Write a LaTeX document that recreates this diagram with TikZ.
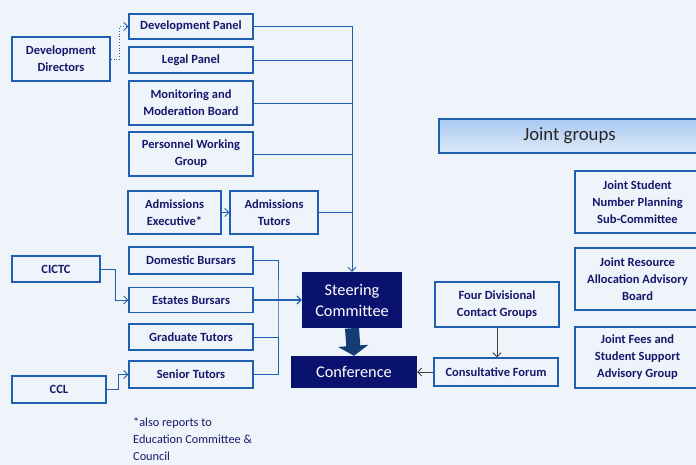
\documentclass[tikz,border=0pt]{standalone}
\usepackage{fontspec}
\setmainfont{Carlito}
\usepackage{tikz}
\usetikzlibrary{arrows.meta}

\definecolor{bgblue}{HTML}{EEF4FA}
\definecolor{lineblue}{HTML}{1F5FAF}
\definecolor{textnavy}{HTML}{16186B}
\definecolor{boxnavy}{HTML}{0A1270}
\definecolor{arrownavy}{HTML}{123C72}
\definecolor{jointtop}{HTML}{A9C9F0}
\definecolor{jointbot}{HTML}{DCE9F8}

\begin{document}
\begin{tikzpicture}[x=1pt, y=-1pt,
    box/.style={draw=lineblue, line width=1.4pt, fill=bgblue, text=textnavy, align=center, inner sep=0pt,
        font=\bfseries\fontsize{12.5}{17}\selectfont},
    navybox/.style={fill=boxnavy, text=white, align=center, inner sep=0pt,
        font=\fontsize{16.3}{21}\selectfont},
    link/.style={draw=lineblue, line width=0.8pt},
    tip/.style={-{Straight Barb[length=4pt,width=8pt]}},
    greylink/.style={draw=black!75, line width=0.8pt, -{Straight Barb[length=4pt,width=8pt]}}]
    \useasboundingbox (0,0) rectangle (696,465);
    \clip (0,0) rectangle (696,465);
    \fill[bgblue] (0,0) rectangle (696,465);

    % left column
    \node[box, minimum width=124pt, minimum height=25pt] (devpanel) at (191,26.5) {Development Panel};
    \node[box, minimum width=124pt, minimum height=26pt] (legal) at (191,60) {Legal Panel};
    \node[box, minimum width=124pt, minimum height=44pt] (monitor) at (191,103) {Monitoring and\\Moderation Board};
    \node[box, minimum width=124pt, minimum height=44pt] (personnel) at (191,154) {Personnel Working\\Group};
    \node[box, minimum width=93pt, minimum height=43pt] (admexec) at (174.5,212.5) {Admissions\\Executive*};
    \node[box, minimum width=88pt, minimum height=43pt] (admtutors) at (274,212.5) {Admissions\\Tutors};
    \node[box, minimum width=98pt, minimum height=44pt] (devdir) at (61,59) {Development\\Directors};

    \node[box, minimum width=88pt, minimum height=26pt] (cictc) at (56,269) {CICTC};
    \node[box, minimum width=124pt, minimum height=27pt] (domestic) at (191,260.5) {Domestic Bursars};
    \node[box, minimum width=124pt, minimum height=25pt] (estates) at (191,300) {Estates Bursars};
    \node[box, minimum width=124pt, minimum height=26pt] (graduate) at (191,337) {Graduate Tutors};
    \node[box, minimum width=124pt, minimum height=27pt] (senior) at (191,374.5) {Senior Tutors};
    \node[box, minimum width=94pt, minimum height=27pt] (ccl) at (59,389.5) {CCL};

    % centre
    \node[navybox, minimum width=100pt, minimum height=56pt] (steering) at (352,300) {Steering\\Committee};
    \node[navybox, minimum width=126pt, minimum height=32pt] (conference) at (354,372) {Conference};
    \node[box, minimum width=124pt, minimum height=45pt] (fourdiv) at (497,304.5) {Four Divisional\\Contact Groups};
    \node[box, minimum width=124pt, minimum height=28pt] (consult) at (496,372) {Consultative Forum};

    % joint groups
    \node[draw=lineblue, line width=1.4pt, top color=jointtop, bottom color=jointbot, text=black!85, inner sep=0pt,
        minimum width=261pt, minimum height=34pt, font=\fontsize{18.8}{22}\selectfont] (joint) at (569.5,136) {Joint groups};
    \node[box, minimum width=125pt, minimum height=62pt] (jsnp) at (637.5,202) {Joint Student\\Number Planning\\Sub-Committee};
    \node[box, minimum width=125pt, minimum height=62pt] (jraab) at (637.5,279) {Joint Resource\\Allocation Advisory\\Board};
    \node[box, minimum width=125pt, minimum height=61pt] (jfees) at (637.5,357.5) {Joint Fees and\\Student Support\\Advisory Group};

    \node[anchor=north west, align=left, inner sep=0pt, text=textnavy, font=\fontsize{12.3}{17}\selectfont] (note) at (133,418)
        {*also reports to\\Education Committee \&\\Council};

    % connectors
    \draw[link, tip] (devpanel.east) -| (steering.north);
    \draw[link] (legal.east) -- (legal.east -| steering.north);
    \draw[link] (monitor.east) -- (monitor.east -| steering.north);
    \draw[link] (personnel.east) -- (personnel.east -| steering.north);
    \draw[link] (admtutors.east) -- (admtutors.east -| steering.north);
    \draw[link, tip] (admexec) -- (admtutors);
    \draw[link, dotted, tip] (devdir.east) -- ++(9,0) |- (devpanel.west);

    \coordinate (bus) at (278,300);
    \draw[link] (domestic.east) -| (bus) |- (senior.east);
    \draw[link] (graduate.east) -- (graduate.east -| bus);
    \draw[link, line width=1.2pt, tip] (estates.east) -- (steering.west);
    \draw[link, tip] (cictc.east) -- ++(15,0) |- (estates.west);
    \draw[link, tip] (ccl.east) -- ++(12,0) |- (senior.west);

    \draw[draw=arrownavy, line width=14pt, -{Triangle[length=10pt,width=30pt]}] (steering.south) -- (conference.north);
    \draw[greylink] (fourdiv) -- (fourdiv |- consult.north);
    \draw[greylink] (consult) -- (conference);
\end{tikzpicture}
\end{document}
